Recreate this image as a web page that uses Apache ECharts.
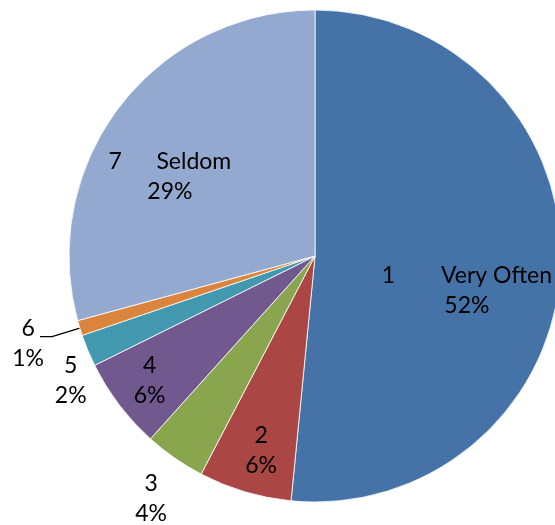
<!DOCTYPE html>
<html>
<head>
<meta charset="utf-8">
<script src="https://cdn.jsdelivr.net/npm/echarts@6/dist/echarts.min.js"></script>
<style>html,body{margin:0;padding:0;background:#fff}#c{width:555px;height:525px}</style>
</head>
<body>
<div id="c"></div>
<script>
// Data
const codes = ['1', '2', '3', '4', '5', '6', '7'];
const names = ['Very Often', '', '', '', '', '', 'Seldom'];
const values = [51.5, 6.1, 4.0, 6.0, 2.1, 1.0, 29.2];

// Styles (kept apart from the data)
const colors = ['#4572A7', '#AA4643', '#89A54E', '#71588F', '#4198AF', '#DB843D', '#93A9CF'];
const labelOffsets = [[26, 28], [-18, 74], [-92, 139], [-65, 48], [-128, 76], [4, 7], [-45, -3]];
const labelGaps = ['\u2003\u2003\u2002', '', '', '', '', '', '\u2003\u2003'];

const chart = echarts.init(document.getElementById('c'), null, {renderer: 'canvas'});

const data = values.map((v, i) => {
  const item = {
    value: v,
    name: codes[i],
    itemStyle: {color: colors[i]},
    label: {offset: labelOffsets[i]}
  };
  if (i === 5) {
    item.label = {
      position: 'outside',
      offset: labelOffsets[i],
      distanceToLabelLine: 0,
      formatter: function (p) {
        return '{a|' + codes[p.dataIndex] + '}\n{a|' + p.percent + '%}';
      },
      rich: {a: {width: 32, align: 'center', fontFamily: 'Lato', fontSize: 23, lineHeight: 30, color: '#000'}}
    };
    item.labelLine = {show: true, length: 29, length2: 12, lineStyle: {color: '#000', width: 1.3}};
  }
  return item;
});

chart.setOption({
  animation: false,
  series: [{
    type: 'pie',
    center: [315, 256],
    radius: 246,
    startAngle: 90,
    clockwise: true,
    percentPrecision: 0,
    avoidLabelOverlap: false,
    itemStyle: {borderColor: '#ffffff', borderWidth: 0.8},
    label: {
      show: true,
      position: 'inside',
      color: '#000',
      fontFamily: 'Lato',
      fontSize: 23,
      lineHeight: 30,
      align: 'center',
      formatter: function (p) {
        const i = p.dataIndex;
        const head = names[i] ? codes[i] + labelGaps[i] + names[i] : codes[i];
        return head + '\n' + p.percent + '%';
      }
    },
    labelLine: {show: false},
    emphasis: {disabled: true},
    data: data
  }]
});
</script>
</body>
</html>
